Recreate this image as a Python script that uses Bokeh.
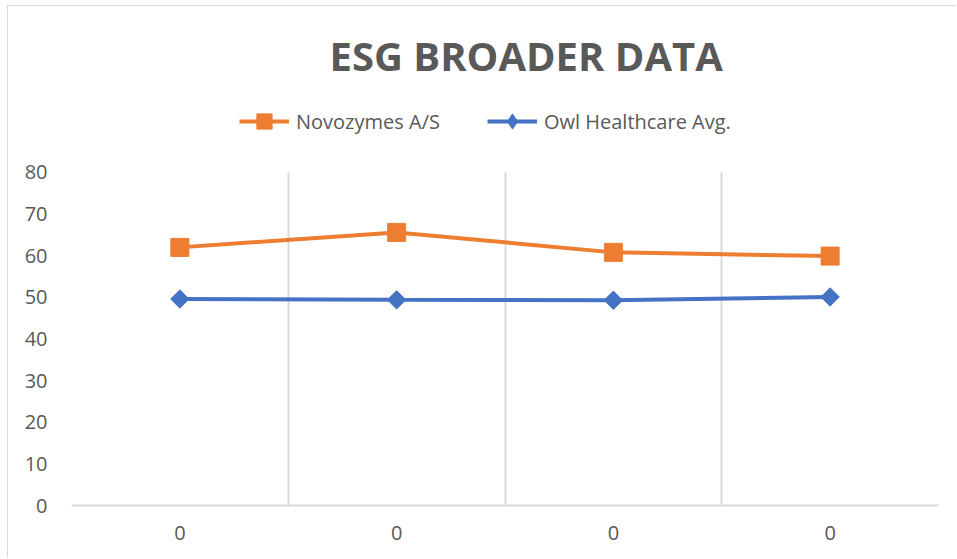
from bokeh.plotting import figure
from bokeh.models import FixedTicker, Range1d, Legend, LegendItem, Title, BoxAnnotation
from bokeh.embed import file_html
from bokeh.resources import INLINE

title_text = "ESG BROADER DATA"
x_labels = ["0", "0", "0", "0"]
x_pos = [0.5, 1.5, 2.5, 3.5]
novozymes = [62.0, 65.6, 60.8, 59.9]
owl = [49.6, 49.4, 49.3, 50.1]
series_names = ["Novozymes A/S", "Owl Healthcare Avg."]
y_max_axis = 80

ORANGE = "#ED7D31"
BLUE = "#4472C4"
GRAY_TXT = "#595959"
GRID = "#d9d9d9"
FONT = "Open Sans"

p = figure(width=949, height=553, output_backend="svg", toolbar_location=None,
           x_range=Range1d(0, 4), y_range=Range1d(0, 98),
           min_border_left=63, min_border_right=19, min_border_top=91, min_border_bottom=54,
           styles={"margin-left": "7px", "margin-top": "5px",
                   "border-left": "1px solid #d9d9d9", "border-top": "1px solid #d9d9d9"})
p.title.visible = False
p.outline_line_color = None
p.background_fill_color = "white"
p.border_fill_color = "white"

# axes
p.xaxis.ticker = FixedTicker(ticks=x_pos)
p.xaxis.major_label_overrides = {x: lab for x, lab in zip(x_pos, x_labels)}
p.xaxis.axis_line_color = GRID
p.xaxis.axis_line_width = 2
p.xaxis.major_tick_line_color = None
p.xaxis.minor_tick_line_color = None
p.xaxis.major_label_text_font = FONT
p.xaxis.major_label_text_font_size = "20px"
p.xaxis.major_label_text_color = GRAY_TXT
p.xaxis.major_label_standoff = 14

p.yaxis.ticker = FixedTicker(ticks=list(range(0, y_max_axis + 1, 10)))
p.yaxis.axis_line_color = None
p.yaxis.major_tick_line_color = None
p.yaxis.minor_tick_line_color = None
p.yaxis.major_label_text_font = FONT
p.yaxis.major_label_text_font_size = "20px"
p.yaxis.major_label_text_color = GRAY_TXT
p.yaxis.major_label_standoff = 18

p.ygrid.grid_line_color = None
p.xgrid.ticker = FixedTicker(ticks=[0, 1, 2, 3, 4])
p.xgrid.grid_line_color = GRID
p.xgrid.grid_line_width = 2

# hide gridlines above the axis maximum (legend area)
p.add_layout(BoxAnnotation(bottom=y_max_axis, fill_color="white", fill_alpha=1.0,
                           line_color=None, level="underlay"))

l1 = p.line(x_pos, novozymes, line_color=ORANGE, line_width=4)
m1 = p.scatter(x_pos, novozymes, marker="square", size=18, fill_color=ORANGE, line_color=ORANGE)
l2 = p.line(x_pos, owl, line_color=BLUE, line_width=4)
m2 = p.scatter(x_pos, owl, marker="square", angle=0.785398, size=13, fill_color=BLUE, line_color=BLUE)
m2_leg = p.scatter(x_pos, owl, marker="diamond", size=18, fill_color=BLUE, line_color=BLUE, visible=False)

legend = Legend(items=[LegendItem(label=series_names[0], renderers=[l1, m1]),
                       LegendItem(label=series_names[1], renderers=[l2, m2_leg])],
                orientation="horizontal", location=(168, 365),
                label_text_font=FONT, label_text_font_size="20px", label_text_color=GRAY_TXT,
                glyph_width=50, glyph_height=38, label_standoff=7, spacing=47,
                padding=0, margin=0, border_line_color=None, background_fill_alpha=0)
p.add_layout(legend, "center")

t = Title(text=title_text, align="left", offset=258, text_font=FONT, text_font_size="40px",
          text_font_style="bold", text_color=GRAY_TXT, standoff=30)
p.add_layout(t, "above")

open("out.html", "w").write(file_html(p, INLINE))
